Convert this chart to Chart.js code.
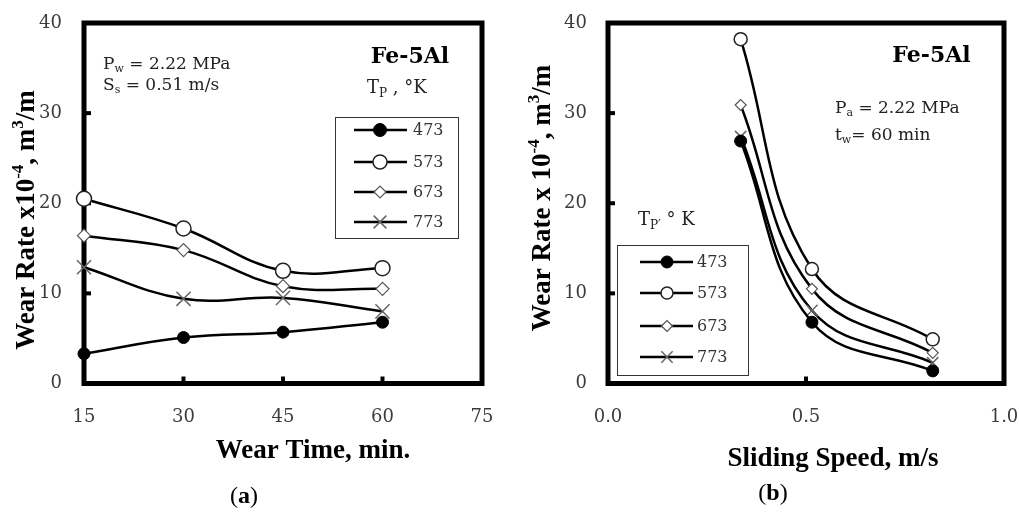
<!DOCTYPE html>
<html><head><meta charset="utf-8">
<script src="https://cdn.jsdelivr.net/npm/chart.js@4.4.1/dist/chart.umd.min.js"></script>
<style>
html,body{margin:0;padding:0;background:#fff;overflow:hidden;}
#wrap{position:relative;width:1019px;height:514px;background:#fff;}
canvas{position:absolute;top:0;}
#c1{left:0}
#c2{left:510px}
</style></head><body>
<div id="wrap"><canvas id="c1" width="510" height="514"></canvas><canvas id="c2" width="509" height="514"></canvas></div>
<script>
// ---------- data ----------
const tempLabels = ['473', '573', '673', '773'];
const wearTimes = [15, 30, 45, 60];
const rateVsTime473 = [3.3, 5.1, 5.7, 6.8];
const rateVsTime573 = [20.5, 17.2, 12.5, 12.8];
const rateVsTime673 = [16.4, 14.8, 10.8, 10.5];
const rateVsTime773 = [12.9, 9.4, 9.5, 8.0];
const slidingSpeeds = [0.335, 0.515, 0.82];
const rateVsSpeed473 = [26.9, 6.8, 1.4];
const rateVsSpeed573 = [38.2, 12.7, 4.9];
const rateVsSpeed673 = [30.9, 10.5, 3.4];
const rateVsSpeed773 = [27.4, 8.1, 2.3];

// ---------- styles ----------
const SERIF = '"DejaVu Serif", serif';
const TITLE = '"Liberation Serif", "Times New Roman", serif';
const markerStyles = [
  {pointStyle: 'circle',   bg: '#000', border: '#000', bw: 1},
  {pointStyle: 'circle',   bg: '#fff', border: '#222', bw: 1.5},
  {pointStyle: 'rectRot',  bg: '#fff', border: '#555', bw: 1.2},
  {pointStyle: 'crossRot', bg: '#fff', border: '#666', bw: 1.5}
];

function makeDatasets(xs, seriesList, radii) {
  return seriesList.map((ys, i) => ({
    label: tempLabels[i],
    data: xs.map((x, k) => ({x: x, y: ys[k]})),
    borderColor: '#000',
    borderWidth: 2.5,
    tension: 0.4,
    clip: false,
    pointStyle: markerStyles[i].pointStyle,
    pointRadius: radii[i],
    pointBackgroundColor: markerStyles[i].bg,
    pointBorderColor: markerStyles[i].border,
    pointBorderWidth: markerStyles[i].bw
  }));
}

// ---------- plugins ----------
const framePlugin = {
  id: 'frame',
  beforeDatasetsDraw(chart, args, o) {
    const {ctx, chartArea: a, scales} = chart;
    ctx.save();
    ctx.strokeStyle = '#000';
    ctx.lineWidth = 5;
    ctx.strokeRect(a.left, a.top, a.right - a.left, a.bottom - a.top);
    ctx.lineWidth = 4;
    const ys = scales.y, xs = scales.x;
    ys.ticks.forEach(t => {
      if (t.value > ys.min && t.value < ys.max) {
        const p = ys.getPixelForValue(t.value);
        ctx.beginPath(); ctx.moveTo(a.left, p); ctx.lineTo(a.left + o.len, p); ctx.stroke();
      }
    });
    xs.ticks.forEach(t => {
      if (t.value > xs.min && t.value < xs.max) {
        const p = xs.getPixelForValue(t.value);
        ctx.beginPath(); ctx.moveTo(p, a.bottom); ctx.lineTo(p, a.bottom - o.len); ctx.stroke();
      }
    });
    ctx.restore();
  }
};

function drawMarker(ctx, style, r, bw, x, y) {
  if (window.Chart && Chart.helpers && Chart.helpers.drawPoint) {
    Chart.helpers.drawPoint(ctx, {pointStyle: style, radius: r, rotation: 0, borderWidth: bw}, x, y);
    return;
  }
  ctx.beginPath();
  ctx.arc(x, y, r, 0, Math.PI * 2);
  ctx.fill(); ctx.stroke();
}

const boxLegendPlugin = {
  id: 'boxLegend',
  afterDatasetsDraw(chart, args, o) {
    const ctx = chart.ctx;
    ctx.save();
    ctx.fillStyle = '#fff';
    ctx.fillRect(o.box[0], o.box[1], o.box[2] - o.box[0], o.box[3] - o.box[1]);
    ctx.strokeStyle = '#333';
    ctx.lineWidth = 1;
    ctx.strokeRect(o.box[0] + 0.5, o.box[1] + 0.5, o.box[2] - o.box[0], o.box[3] - o.box[1]);
    chart.data.datasets.forEach((ds, i) => {
      const y = o.rows[i];
      ctx.strokeStyle = ds.borderColor;
      ctx.lineWidth = ds.borderWidth;
      ctx.beginPath(); ctx.moveTo(o.lineX[0], y); ctx.lineTo(o.lineX[1], y); ctx.stroke();
      ctx.fillStyle = ds.pointBackgroundColor;
      ctx.strokeStyle = ds.pointBorderColor;
      ctx.lineWidth = ds.pointBorderWidth;
      drawMarker(ctx, ds.pointStyle, o.radii[i], ds.pointBorderWidth, o.markX, y);
      ctx.fillStyle = '#333';
      ctx.font = o.font;
      ctx.textBaseline = 'middle';
      ctx.textAlign = 'left';
      ctx.fillText(ds.label, o.textX, y + 1);
    });
    ctx.restore();
  }
};

function drawRich(ctx, x, y, parts, align) {
  ctx.textBaseline = 'alphabetic';
  ctx.textAlign = 'left';
  let total = 0;
  const widths = parts.map(p => { ctx.font = p[1]; const w = ctx.measureText(p[0]).width; total += w; return w; });
  let cur = align === 'center' ? x - total / 2 : x;
  parts.forEach((p, i) => {
    ctx.font = p[1];
    ctx.fillText(p[0], cur, y + (p[2] || 0));
    cur += widths[i];
  });
}

const textsPlugin = {
  id: 'texts',
  afterDraw(chart, args, o) {
    const ctx = chart.ctx;
    ctx.save();
    o.items.forEach(it => {
      ctx.fillStyle = it.color || '#000';
      if (it.rot) {
        ctx.save();
        ctx.translate(it.x, it.y);
        ctx.rotate(-Math.PI / 2);
        drawRich(ctx, 0, 0, it.parts, 'center');
        ctx.restore();
      } else {
        drawRich(ctx, it.x, it.y, it.parts, it.align);
      }
    });
    ctx.restore();
  }
};

const B27 = 'bold 27px ' + TITLE;
const B17 = 'bold 17px ' + TITLE;
const R17 = '17px ' + SERIF;
const R11 = '11px ' + SERIF;
const R18 = '18px ' + SERIF;
const R12 = '12px ' + SERIF;
const FE = 'bold 22px ' + SERIF;
const PAR = '24px ' + TITLE;
const PARB = 'bold 24px ' + TITLE;

function baseOptions(cfg) {
  return {
    responsive: false,
    animation: false,
    layout: {padding: {left: 0, top: 23, right: cfg.padRight, bottom: 0}},
    plugins: {
      legend: {display: false},
      tooltip: {enabled: false},
      frame: {len: 7},
      boxLegend: cfg.legend,
      texts: {items: cfg.texts}
    },
    scales: {
      x: {
        type: 'linear',
        min: cfg.xMin, max: cfg.xMax,
        grid: {display: false, drawTicks: true, tickLength: 23},
        border: {display: false},
        afterFit: s => { s.height = 130.5; },
        ticks: {
          stepSize: cfg.xStep,
          padding: 0,
          color: '#3c3c3c',
          font: {family: SERIF, size: 18},
          maxRotation: 0,
          callback: cfg.xFmt
        }
      },
      y: {
        type: 'linear',
        min: 0, max: 40,
        grid: {display: false, drawTicks: true, tickLength: cfg.yPad},
        border: {display: false},
        afterFit: s => { s.width = cfg.yWidth; },
        ticks: {
          stepSize: 10,
          padding: 0,
          color: '#3c3c3c',
          font: {family: SERIF, size: 18}
        }
      }
    }
  };
}

// ---------- chart (a) ----------
new Chart(document.getElementById('c1'), {
  type: 'line',
  data: {datasets: makeDatasets(wearTimes, [rateVsTime473, rateVsTime573, rateVsTime673, rateVsTime773], [6, 7.5, 6.5, 10])},
  options: baseOptions({
    padRight: 28, yWidth: 84, yPad: 22,
    xMin: 15, xMax: 75, xStep: 15, xFmt: v => String(v),
    legend: {box: [335, 117, 458, 238], rows: [130, 162, 192, 222], lineX: [354, 407], markX: 380, textX: 413,
             radii: [6.5, 7, 6, 9], font: '16px ' + SERIF},
    texts: [
      {rot: true, x: 33.5, y: 220, parts: [['Wear Rate x10', B27], ['-4', B17, -11], [', m', B27], ['3', B17, -11], ['/m', B27]]},
      {x: 313, y: 458, align: 'center', parts: [['Wear Time, min.', B27]]},
      {x: 244, y: 503, align: 'center', parts: [['(', PAR], ['a', PARB], [')', PAR]]},
      {x: 410, y: 63, align: 'center', parts: [['Fe-5Al', FE]]},
      {x: 103, y: 69, color: '#222', parts: [['P', R17], ['w', R11, 3], [' = 2.22 MPa', R17]]},
      {x: 103, y: 90, color: '#222', parts: [['S', R17], ['s', R11, 3], [' = 0.51 m/s', R17]]},
      {x: 367, y: 93, color: '#222', parts: [['T', R18], ['P', R12, 4], [' , °K', R18]]}
    ]
  }),
  plugins: [framePlugin, boxLegendPlugin, textsPlugin]
});

// ---------- chart (b) ----------
new Chart(document.getElementById('c2'), {
  type: 'line',
  data: {datasets: makeDatasets(slidingSpeeds, [rateVsSpeed473, rateVsSpeed573, rateVsSpeed673, rateVsSpeed773], [6, 6.5, 5.5, 8])},
  options: baseOptions({
    padRight: 15, yWidth: 98, yPad: 21,
    xMin: 0, xMax: 1, xStep: 0.5, xFmt: v => Number(v).toFixed(1),
    legend: {box: [107, 245, 238, 375], rows: [262, 293, 326, 357], lineX: [130, 183], markX: 157, textX: 187,
             radii: [6, 6, 5.5, 8], font: '16px ' + SERIF},
    texts: [
      {rot: true, x: 40, y: 198, parts: [['Wear Rate x 10', B27], ['-4', B17, -11], [', m', B27], ['3', B17, -11], ['/m', B27]]},
      {x: 323, y: 466, align: 'center', parts: [['Sliding Speed, m/s', B27]]},
      {x: 263, y: 500, align: 'center', parts: [['(', PAR], ['b', PARB], [')', PAR]]},
      {x: 421.5, y: 62, align: 'center', parts: [['Fe-5Al', FE]]},
      {x: 325, y: 113, color: '#222', parts: [['P', R17], ['a', R11, 3], [' = 2.22 MPa', R17]]},
      {x: 325, y: 140, color: '#222', parts: [['t', R17], ['w', R11, 3], ['= 60 min', R17]]},
      {x: 128, y: 225, color: '#222', parts: [['T', R18], ['P′', R12, 4], [' ° K', R18]]}
    ]
  }),
  plugins: [framePlugin, boxLegendPlugin, textsPlugin]
});
</script>
</body></html>
